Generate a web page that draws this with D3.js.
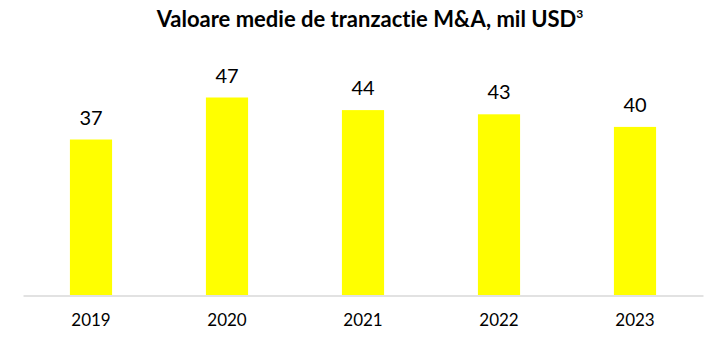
<!DOCTYPE html>
<html><head><meta charset="utf-8">
<script src="https://cdn.jsdelivr.net/npm/d3@7"></script>
<style>body{margin:0;background:#fff} text{font-variant-ligatures:none;font-feature-settings:"liga" 0}</style>
</head><body>
<svg id="c" width="726" height="339"></svg>
<script>
const years = ["2019","2020","2021","2022","2023"];
const values = [37,47,44,43,40];
const title = "Valoare medie de tranzactie M&A, mil USD";

const svg = d3.select("#c");
const font = "Lato, 'Liberation Sans', sans-serif";
const x = d3.scaleBand().domain(years).range([23,703]).paddingInner(0.69).paddingOuter(0.345);
const y = d3.scaleLinear().domain([0,47]).range([295,97.5]);

svg.append("text").attr("x",370).attr("y",27).attr("text-anchor","middle")
  .attr("font-family",font).attr("font-weight","bold").attr("font-size",22).attr("fill","#000")
  .text(title).append("tspan").attr("font-size",12).attr("dy",-9).text("3");

svg.selectAll("rect.bar").data(values).join("rect").attr("class","bar")
  .attr("x",(d,i)=>x(years[i])).attr("width",x.bandwidth())
  .attr("y",d=>y(d)).attr("height",d=>y(0)-y(d)).attr("fill","#FFFF00");

svg.selectAll("text.val").data(values).join("text").attr("class","val")
  .attr("x",(d,i)=>x(years[i])+x.bandwidth()/2).attr("y",d=>y(d)-15)
  .attr("text-anchor","middle").attr("font-family",font).attr("font-size",20).attr("fill","#000")
  .text(d=>d);

const ax = svg.append("g").attr("transform","translate(0,295.5)").call(d3.axisBottom(x).tickSize(0).tickPadding(18));
ax.select(".domain").attr("stroke","#d9d9d9").attr("stroke-width",1.5);
ax.selectAll("text").attr("font-family",font).attr("font-size",17).attr("fill","#000");
</script>
</body></html>
